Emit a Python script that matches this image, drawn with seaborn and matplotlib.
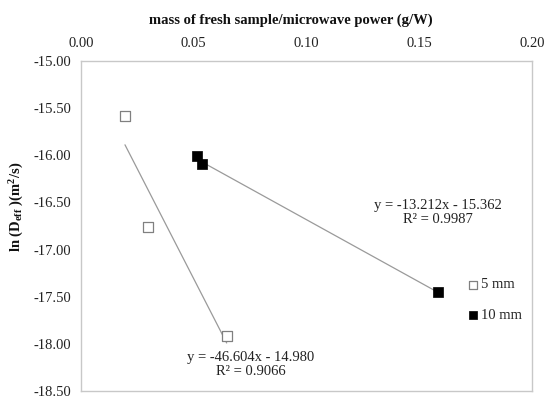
import numpy as np
import pandas as pd
import matplotlib
matplotlib.use("Agg")
import matplotlib.pyplot as plt
import seaborn as sns

# data
x_5mm = [0.0195, 0.0299, 0.0646]
y_5mm = [-15.58, -16.76, -17.92]
x_10mm = [0.0513, 0.0535, 0.1582]
y_10mm = [-16.01, -16.09, -17.45]
fit_5mm = [-46.604, -14.980]
fit_10mm = [-13.212, -15.362]
r2_5mm = 0.9066
r2_10mm = 0.9987
x_ticks = [0.00, 0.05, 0.10, 0.15, 0.20]
y_ticks = [-15.0, -15.5, -16.0, -16.5, -17.0, -17.5, -18.0, -18.5]

sns.set_theme(style="white")
plt.rcParams['font.family'] = ['Liberation Serif', 'DejaVu Serif']
plt.rcParams['mathtext.fontset'] = 'custom'
plt.rcParams['mathtext.rm'] = 'Liberation Serif'
plt.rcParams['mathtext.bf'] = 'Liberation Serif:bold'
plt.rcParams['mathtext.it'] = 'Liberation Serif:italic'

df5 = pd.DataFrame({'x': x_5mm, 'y': y_5mm})
df10 = pd.DataFrame({'x': x_10mm, 'y': y_10mm})

fig = plt.figure(figsize=(5.45, 3.99), dpi=100)
ax = fig.add_axes([81/545, 1 - 391/399, (532 - 81)/545, (391 - 61)/399])

grey = '#808080'
# trend lines
for xs, fit in ((x_5mm, fit_5mm), (x_10mm, fit_10mm)):
    lx = np.array([min(xs), max(xs)])
    ly = fit[0] * lx + fit[1]
    sns.lineplot(x=lx, y=ly, ax=ax, color='#9a9a9a', linewidth=0.9, zorder=2)

sns.scatterplot(data=df5, x='x', y='y', ax=ax, marker='s', s=42,
                facecolor='white', edgecolor=grey, linewidth=0.9,
                label='5 mm', zorder=3)
sns.scatterplot(data=df10, x='x', y='y', ax=ax, marker='s', s=42,
                color='black', edgecolor='black', linewidth=0.5,
                label='10 mm', zorder=3)

ax.set_xlim(0, 0.20)
ax.set_ylim(-18.5, -15.0)
ax.set_xticks(x_ticks)
ax.set_yticks(y_ticks)
ax.set_xticklabels([f"{v:.2f}" for v in x_ticks])
ax.set_yticklabels([f"{v:.2f}" for v in y_ticks])
ax.xaxis.tick_top()
ax.xaxis.set_label_position('top')
ax.tick_params(axis='x', length=0, pad=8, labelsize=10.5, colors='#222222')
ax.tick_params(axis='y', length=4, width=0.8, color='#c8c8c8', pad=3,
               labelsize=10.5, colors='#222222')
ax.tick_params(axis='y', colors='#222222')
for sp in ax.spines.values():
    sp.set_color('#c8c8c8')
    sp.set_linewidth(1.0)

ax.set_xlabel('mass of fresh sample/microwave power (g/W)', fontsize=10.5,
              fontweight='bold', color='#111111', va='center')
ax.xaxis.set_label_coords((291 - 81)/451, (391 - 20)/330)
ax.set_ylabel('ln (D$_{\\mathbf{eff}}$ )(m$^{\\mathbf{2}}$/s)', fontsize=10.5,
              fontweight='bold', color='#111111', va='center')
ax.yaxis.set_label_coords((17 - 81)/451, (391 - 207)/330)

ax.text(0.0754, -18.224, f"y = {fit_5mm[0]:.3f}x - {abs(fit_5mm[1]):.3f}\nR² = {r2_5mm:.4f}",
        ha='center', va='center', fontsize=10.5, color='#222222', linespacing=1.1,
        multialignment='center')
ax.text(0.1583, -16.612, f"y = {fit_10mm[0]:.3f}x - {abs(fit_10mm[1]):.3f}\nR² = {r2_10mm:.4f}",
        ha='center', va='center', fontsize=10.5, color='#222222', linespacing=1.1,
        multialignment='center')

leg = ax.legend(loc='upper left', bbox_to_anchor=(461/545, 1 - 271/399),
                bbox_transform=fig.transFigure, frameon=False, fontsize=10.5,
                handlelength=0.6, handletextpad=0.3, labelspacing=1.2,
                borderpad=0, markerscale=0.8)

fig.savefig('out.png', dpi=100, facecolor='white')
